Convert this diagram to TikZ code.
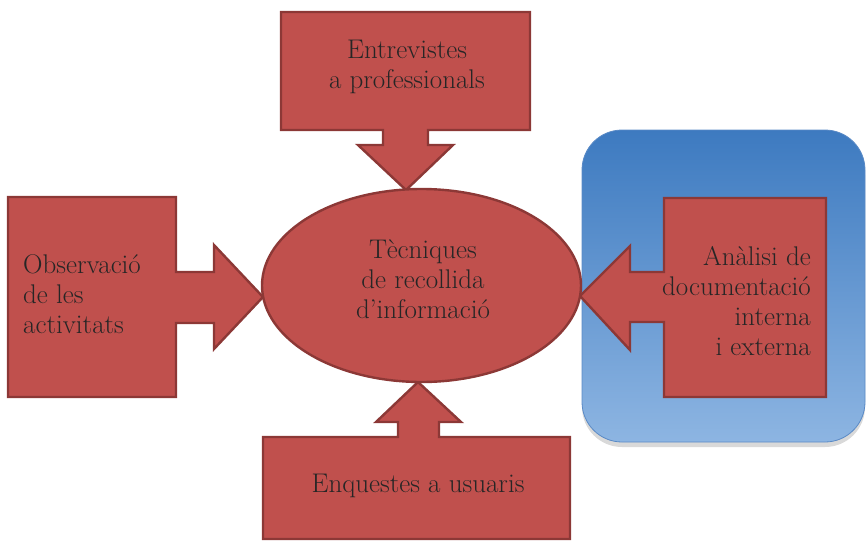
\documentclass[tikz,border=0pt]{standalone}
\usetikzlibrary{shapes.geometric,shadows}
\definecolor{redfill}{HTML}{C0504D}
\definecolor{redline}{HTML}{8C3836}
\definecolor{bluetop}{HTML}{3D7AC0}
\definecolor{bluebot}{HTML}{8DB5E2}
\definecolor{blueline}{HTML}{5A8AC6}
\definecolor{txt}{HTML}{262626}
\begin{document}
\begin{tikzpicture}[x=1pt,y=-1pt,
  callout/.style={fill=redfill,draw=redline,line width=2.4pt,line join=miter},
  lbl/.style={text=txt,font=\fontsize{27}{30}\selectfont,inner sep=0pt},
]
\useasboundingbox (0,0) rectangle (867,541);
% blue panel
\path[draw=blueline,line width=0.8pt,rounded corners=40pt,top color=bluetop,bottom color=bluebot,
  drop shadow={opacity=0.3,shadow xshift=0pt,shadow yshift=-5pt}]
  (582,130) rectangle (865,442);
% top callout
\path[callout] (281,12) -- (530,12) -- (530,130) -- (428,130) -- (428,145) -- (453,145) -- (406,190)
  -- (358,145) -- (383,145) -- (383,130) -- (281,130) -- cycle;
% left callout
\path[callout] (8,197) -- (176,197) -- (176,272) -- (214,272) -- (214,245) -- (263,297)
  -- (214,349) -- (214,323) -- (176,323) -- (176,397) -- (8,397) -- cycle;
% right callout
\path[callout] (826,198) -- (664,198) -- (664,272) -- (630,272) -- (630,246) -- (580,296)
  -- (630,350) -- (630,322) -- (664,322) -- (664,397) -- (826,397) -- cycle;
% bottom callout
\path[callout] (263,539) -- (570,539) -- (570,437) -- (439,437) -- (439,422) -- (461,422) -- (418,382)
  -- (376,422) -- (398,422) -- (398,437) -- (263,437) -- cycle;
% centre
\node[ellipse,fill=redfill,draw=redline,line width=2.4pt,minimum width=319pt,minimum height=193pt,
  inner sep=0pt] (center) at (421.5,285.5) {};
\node[lbl,align=center,anchor=base] (ctext) at (423,318) {Tècniques\\de recollida\\d’informació};
\node[lbl,align=center,anchor=base] (top) at (407,88) {Entrevistes\\a professionals};
\node[lbl,align=left,anchor=base west] (left) at (23,333) {Observació\\de les\\activitats};
\node[lbl,align=right,anchor=base east] (right) at (811,355) {Anàlisi de\\documentació\\interna\\i externa};
\node[lbl,anchor=base] (bottom) at (418,492) {Enquestes a usuaris};
\end{tikzpicture}
\end{document}
